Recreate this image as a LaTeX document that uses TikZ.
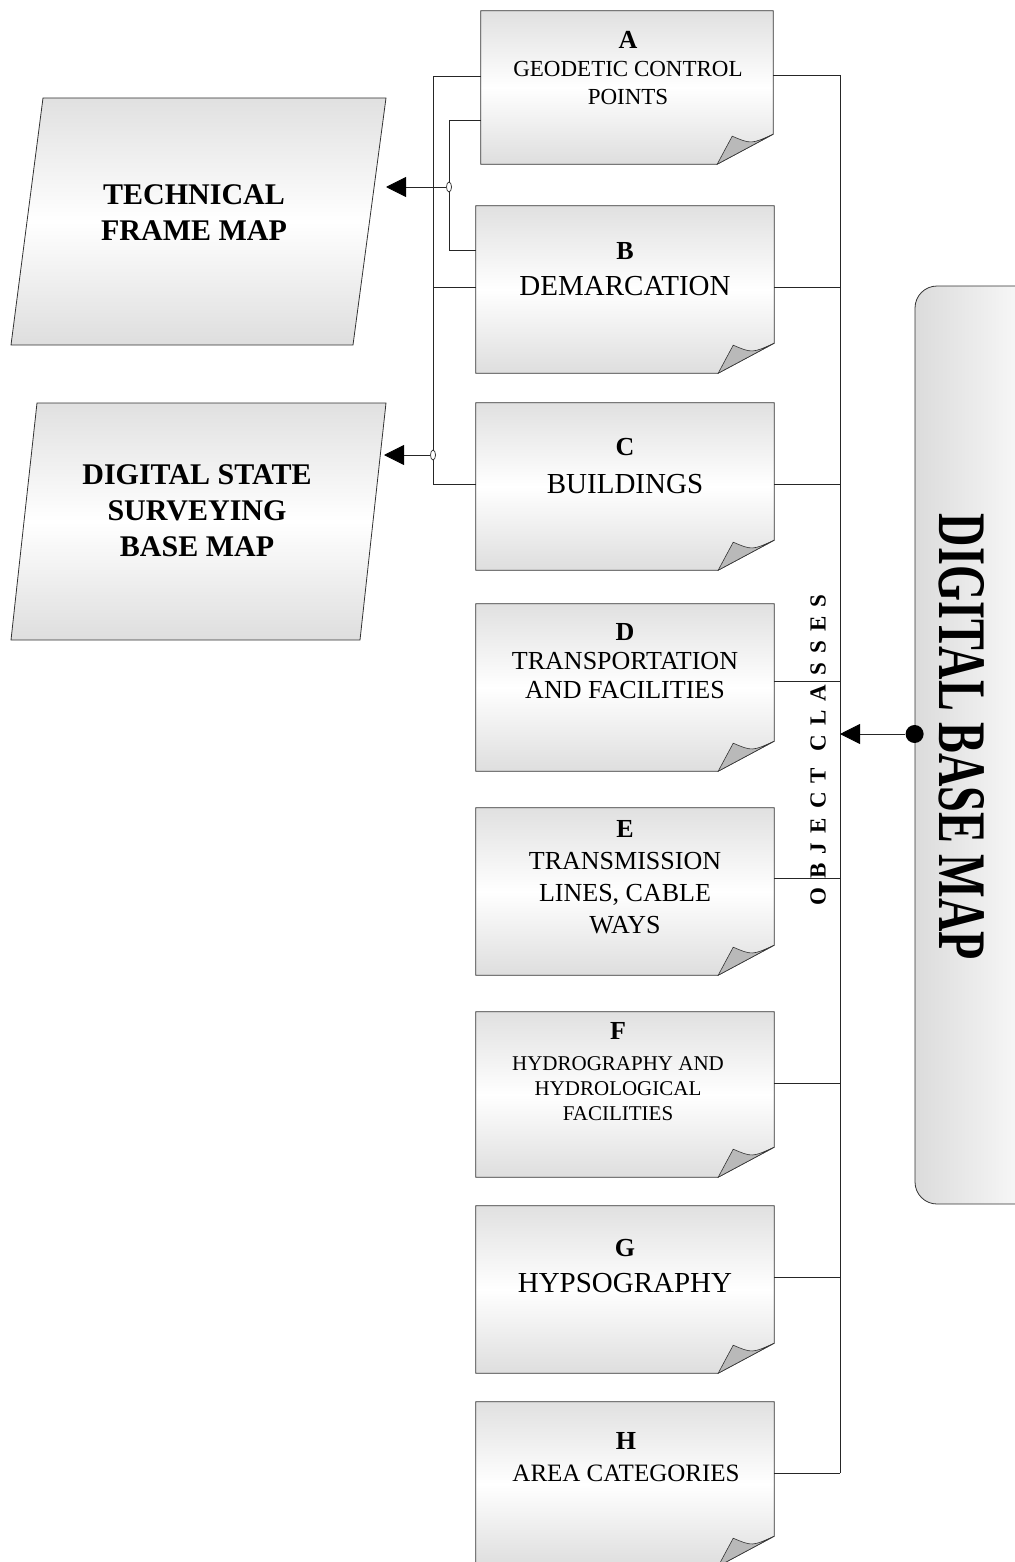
\documentclass[tikz,border=0pt]{standalone}
\usepackage{fontspec}
\setmainfont{Liberation Serif}
\usetikzlibrary{arrows.meta,shapes.geometric}

\tikzset{
  page/.style={minimum width=298pt, minimum height=167pt, inner sep=0pt},
  pagetext/.style={align=center, inner sep=0pt},
  maptext/.style={align=center, inner sep=0pt, font=\fontsize{30}{36}\selectfont\bfseries},
  wire/.style={draw=black!85, line width=0.8pt},
  arr/.style={wire, -{Triangle[length=20pt,width=20pt,color=black]}},
  hop/.style={ellipse, draw=black!85, fill=white, line width=0.7pt, minimum width=5pt, minimum height=10pt, inner sep=0pt},
  dot/.style={circle, fill=black, minimum size=18pt, inner sep=0pt},
  shadefill/.style={top color=gray!24, bottom color=gray!26, middle color=white, draw=black!80, line width=0.8pt}
}

% page with folded corner
\newcommand\pageoutline[1]{%
  \shade[shadefill] (#1.north west) -- (#1.north east) -- ([yshift=30pt]#1.south east)
    -- ([xshift=-56pt]#1.south east) -- (#1.south west) -- cycle;
  \filldraw[fill=gray!55, draw=black!80, line width=0.6pt]
    ([xshift=-56pt]#1.south east) .. controls ([xshift=-49pt,yshift=14pt]#1.south east) .. ([xshift=-41pt,yshift=28pt]#1.south east)
    .. controls ([xshift=-22pt,yshift=20pt]#1.south east) .. ([yshift=30pt]#1.south east) -- cycle;
}
\newcommand\pagehead[1]{{\fontsize{26}{26}\selectfont\bfseries #1}}

\begin{document}
\begin{tikzpicture}[x=1pt,y=-1pt]
  \useasboundingbox (0,0) rectangle (1014,1562);

  % object class pages
  \node[page, minimum width=292pt, minimum height=153pt] (A) at (627,87.5) {};
  \node[page] (B) at (625,289.5) {};
  \node[page] (C) at (625,486.5) {};
  \node[page] (D) at (625,687.5) {};
  \node[page] (E) at (625,891.5) {};
  \node[page, minimum height=165pt] (F) at (625,1094.5) {};
  \node[page] (G) at (625,1289.5) {};
  \node[page, minimum height=164pt] (H) at (625,1484) {};
  \foreach \p in {A,B,C,D,E,F,G,H} \pageoutline{\p};

  \node[pagetext, font=\fontsize{23}{28}\selectfont] (Atext) at (628,68) {\pagehead{A}\\GEODETIC CONTROL\\POINTS};
  \node[pagetext, font=\fontsize{29}{36}\selectfont] (Btext) at (625,269) {\pagehead{B}\\DEMARCATION};
  \node[pagetext, font=\fontsize{29}{38}\selectfont] (Ctext) at (625,466) {\pagehead{C}\\BUILDINGS};
  \node[pagetext, font=\fontsize{26}{29}\selectfont] (Dtext) at (625,661) {\pagehead{D}\\TRANSPORTATION\\AND FACILITIES};
  \node[pagetext, font=\fontsize{26}{32}\selectfont] (Etext) at (625,877) {\pagehead{E}\\TRANSMISSION\\LINES, CABLE\\WAYS};
  \node[pagetext, font=\fontsize{21}{25}\selectfont] (Ftext) at (618,1072) {\pagehead{F}\\[6pt]HYDROGRAPHY AND\\HYDROLOGICAL\\FACILITIES};
  \node[pagetext, font=\fontsize{29}{36}\selectfont] (Gtext) at (625,1266) {\pagehead{G}\\HYPSOGRAPHY};
  \node[pagetext, font=\fontsize{25}{32}\selectfont] (Htext) at (626,1457) {\pagehead{H}\\AREA CATEGORIES};

  % right bus
  \foreach \p/\y in {A/75,B/287,C/484,D/681,E/878,F/1083,G/1277,H/1473}{
    \coordinate (r\p) at (840,\y);
    \draw[wire] (\p.east |- r\p) -- (r\p);
  }
  \draw[wire] (rA) -- (rH);

  \node[rotate=90, font=\fontsize{23}{23}\selectfont\bfseries] (objcl) at (818,750)
    {\addfontfeature{LetterSpace=40}OBJECT\hspace{16pt}CLASSES};

  % digital base map
  \node[draw=black!80, line width=0.8pt, rounded corners=22pt, left color=gray!28, right color=white,
        minimum width=135pt, minimum height=918pt, inner sep=0pt] (dbm) at (982.5,745) {};
  \node[rotate=-90, inner sep=0pt] (dbmtext) at (962,737)
    {\scalebox{0.68}[1]{\fontsize{68}{68}\selectfont\bfseries DIGITAL BASE MAP}};
  \coordinate (busin) at (840,734);
  \node[dot] (src) at (dbm.west |- busin) {};
  \draw[arr] (src) -- (busin);

  % left side
  \coordinate (lout1) at (433,76);
  \coordinate (lout2) at (433,287);
  \coordinate (lout3) at (433,484);
  \coordinate (lin1) at (449,120);
  \coordinate (lin2) at (449,250);
  \draw[wire] (A.west |- lout1) -- (lout1) -- (lout3) -- (C.west |- lout3);
  \draw[wire] (lout2) -- (B.west |- lout2);
  \draw[wire] (A.west |- lin1) -- (lin1) -- (lin2) -- (B.west |- lin2);

  % output maps
  \shade[shadefill] (43,98) -- (386,98) -- (353,345) -- (11,345) -- cycle;
  \node[maptext] (techmap) at (194,213) {TECHNICAL\\FRAME MAP};
  \shade[shadefill] (37,403) -- (386,403) -- (360,640) -- (11,640) -- cycle;
  \node[maptext] (statemap) at (197,511) {DIGITAL STATE\\SURVEYING\\BASE MAP};

  \coordinate (techin) at (386,187);
  \coordinate (statein) at (384,455);
  \node[hop] (hopT) at (449,187) {};
  \node[hop] (hopS) at (433,455) {};
  \draw[arr] (hopT.west) -- (techin);
  \draw[arr] (hopS.west) -- (statein);
\end{tikzpicture}
\end{document}
